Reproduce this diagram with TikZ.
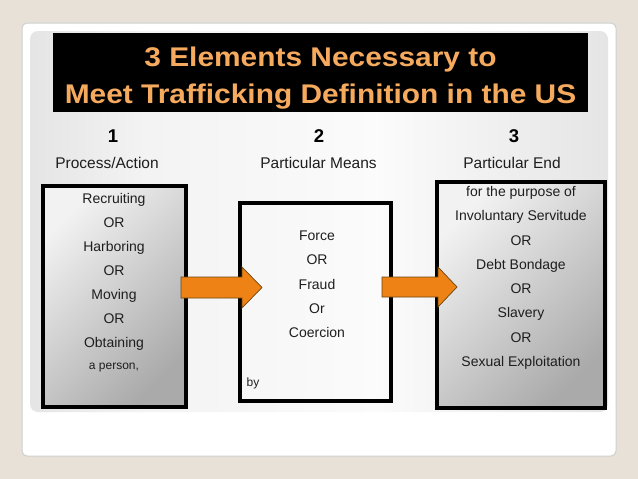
\documentclass[tikz,border=0pt]{standalone}
\usepackage{fontspec}
\setmainfont{Liberation Sans}
\usetikzlibrary{shadows}
\definecolor{bgbeige}{HTML}{E7E1D7}
\definecolor{cardedge}{HTML}{CFCFCF}
\definecolor{titleorange}{HTML}{F6AA5E}
\definecolor{arroworange}{HTML}{EE8214}
\definecolor{arrowedge}{HTML}{6B4510}
\definecolor{boxlight}{HTML}{F2F2F2}
\definecolor{boxdark}{HTML}{AAAAAA}
\definecolor{txt}{HTML}{1E1E1E}
\definecolor{pg0}{HTML}{A0A0A0}
\definecolor{pg1}{HTML}{CFCFCF}
\definecolor{pg2}{HTML}{F3F3F3}
\definecolor{pg3}{HTML}{FBFBFB}
\definecolor{pg4}{HTML}{DADADA}
\definecolor{pg5}{HTML}{B2B2B2}
\pgfdeclarehorizontalshading{panelsh}{100bp}{color(0bp)=(pg0); color(10bp)=(pg1); color(35bp)=(pg2); color(55bp)=(pg3); color(85bp)=(pg4); color(100bp)=(pg5)}
\begin{document}
\begin{tikzpicture}[x=1pt,y=-1pt,
  boxline/.style={line width=4pt, draw=black, inner sep=0pt},
  shadedbox/.style={boxline, top color=boxlight, bottom color=boxdark, shading angle=45,
    drop shadow={opacity=0.25, shadow xshift=1pt, shadow yshift=-2pt}},
  bodytext/.style={font=\fontsize{14}{16}\selectfont, text=txt, anchor=base, inner sep=0pt},
  smalltext/.style={font=\fontsize{12}{14}\selectfont, text=txt, anchor=base, inner sep=0pt},
  hdr/.style={font=\fontsize{15.5}{18}\selectfont, text=txt, anchor=base, inner sep=0pt},
  num/.style={font=\bfseries\fontsize{18.5}{22}\selectfont, text=black, anchor=base, inner sep=0pt},
  ttl/.style={font=\bfseries\fontsize{27}{32}\selectfont, text=titleorange, anchor=base, inner sep=0pt},
  blockarrow/.style={fill=arroworange, draw=arrowedge, line width=0.7pt, line join=miter}]
\useasboundingbox (0,0) rectangle (638,479);
\fill[bgbeige] (0,0) rectangle (638,479);
\draw[cardedge, fill=white, line width=1pt, rounded corners=5pt] (22,23) rectangle (616,456);
\shade[shading=panelsh, rounded corners=8pt] (30,31) rectangle (608,412);
% title
\node[fill=black, minimum width=535pt, minimum height=79pt, inner sep=0pt] (tb) at (320.5,72.5) {};
\node[ttl] (t1) at (320.5,66) {\scalebox{1.107}[1]{3 Elements Necessary to}};
\node[ttl] (t2) at (320.5,103) {\scalebox{1.107}[1]{Meet Trafficking Definition in the US}};
% headers
\node[num] (n1) at (113,142) {1};
\node[num] (n2) at (319,142) {2};
\node[num] (n3) at (514,142) {3};
\node[hdr] (h1) at (107,168) {Process/Action};
\node[hdr] (h2) at (318.5,168) {Particular Means};
\node[hdr] (h3) at (512,168) {Particular End};
% boxes
\node[shadedbox, minimum width=143pt, minimum height=221pt] (b1) at (114.5,296.5) {};
\node[boxline, minimum width=151pt, minimum height=198pt] (b2) at (315.5,302) {};
\node[shadedbox, minimum width=168pt, minimum height=226pt] (b3) at (521,295) {};
% box 1 text
\foreach \t [count=\i] in {Recruiting,OR,Harboring,OR,Moving,OR,Obtaining}
  \node[bodytext] (a\i) at (114,{203.3+24.1*(\i-1)}) {\t};
\node[smalltext] (a8) at (114,369) {a person,};
% box 2 text
\foreach \t [count=\i] in {Force,OR,Fraud,Or,Coercion}
  \node[bodytext] (m\i) at (317,{240.7+24.25*(\i-1)}) {\t};
\node[smalltext, anchor=base west] (by) at (246.5,386) {by};
% box 3 text
\foreach \t [count=\i] in {for the purpose of,Involuntary Servitude,OR,Debt Bondage,OR,Slavery,OR,Sexual Exploitation}
  \node[bodytext] (e\i) at (521,{196.7+24.25*(\i-1)}) {\t};
% arrows
\draw[blockarrow] (181,277) -- (242,277) -- (242,267) -- (262,287.5) -- (242,308) -- (242,298) -- (181,298) -- cycle;
\draw[blockarrow] (382,277) -- (438,277) -- (438,267) -- (457,287) -- (438,307) -- (438,297) -- (382,297) -- cycle;
\end{tikzpicture}
\end{document}
